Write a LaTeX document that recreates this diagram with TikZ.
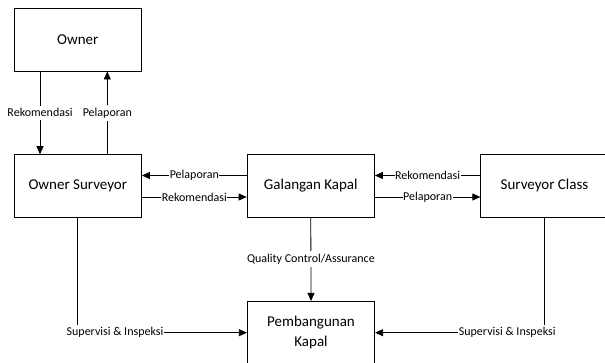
\documentclass[tikz,border=0pt]{standalone}
\usepackage{fontspec}
\setmainfont{Carlito}
\usetikzlibrary{arrows.meta}

\tikzset{
    blok/.style={draw,line width=.8pt,minimum width=127.4pt,minimum height=62.7pt,
        inner sep=0pt,align=center,font=\fontsize{15}{19.5}\selectfont},
    lbl/.style={fill=white,inner xsep=.5pt,inner ysep=3pt,
        font=\fontsize{12}{14}\selectfont},
    arr/.style={line width=.8pt,-{Triangle[length=8pt,width=7pt]}}
}

\begin{document}
\begin{tikzpicture}[x=1pt,y=1pt]
    \useasboundingbox (0,0) rectangle (605,362);
    \node[blok] (owner) at (77.8,322.3) {Owner};
    \node[blok] (osurv) at (77.8,176) {Owner Surveyor};
    \node[blok] (galangan) at (310.8,176) {Galangan Kapal};
    \node[blok] (sclass) at (544.5,176) {Surveyor Class};
    \node[blok] (bangun) at (311,29.3) {Pembangunan\\Kapal};
    \draw[arr] ([xshift=-37.8pt]owner.south) -- node[lbl] {Rekomendasi}
        ([xshift=-37.8pt]osurv.north);
    \draw[arr] ([xshift=29.5pt]osurv.north) -- node[lbl] {Pelaporan}
        ([xshift=29.5pt]owner.south);
    \draw[arr] ([yshift=10.5pt]galangan.west) -- node[lbl] {Pelaporan}
        ([yshift=10.5pt]osurv.east);
    \draw[arr] ([yshift=-11pt]osurv.east) -- node[lbl] {Rekomendasi}
        ([yshift=-11pt]galangan.west);
    \draw[arr] ([yshift=10.5pt]sclass.west) -- node[lbl] {Rekomendasi}
        ([yshift=10.5pt]galangan.east);
    \draw[arr] ([yshift=-11pt]galangan.east) -- node[lbl] {Pelaporan}
        ([yshift=-11pt]sclass.west);
    \draw[arr] (galangan.south) -- node[lbl] {Quality Control/Assurance}
        (bangun.north);
    \draw[arr] (osurv.south) |- node[lbl,pos=.61] {Supervisi \& Inspeksi}
        (bangun.west);
    \draw[arr] (sclass.south) |- node[lbl,pos=.61] {Supervisi \& Inspeksi}
        (bangun.east);
\end{tikzpicture}
\end{document}
